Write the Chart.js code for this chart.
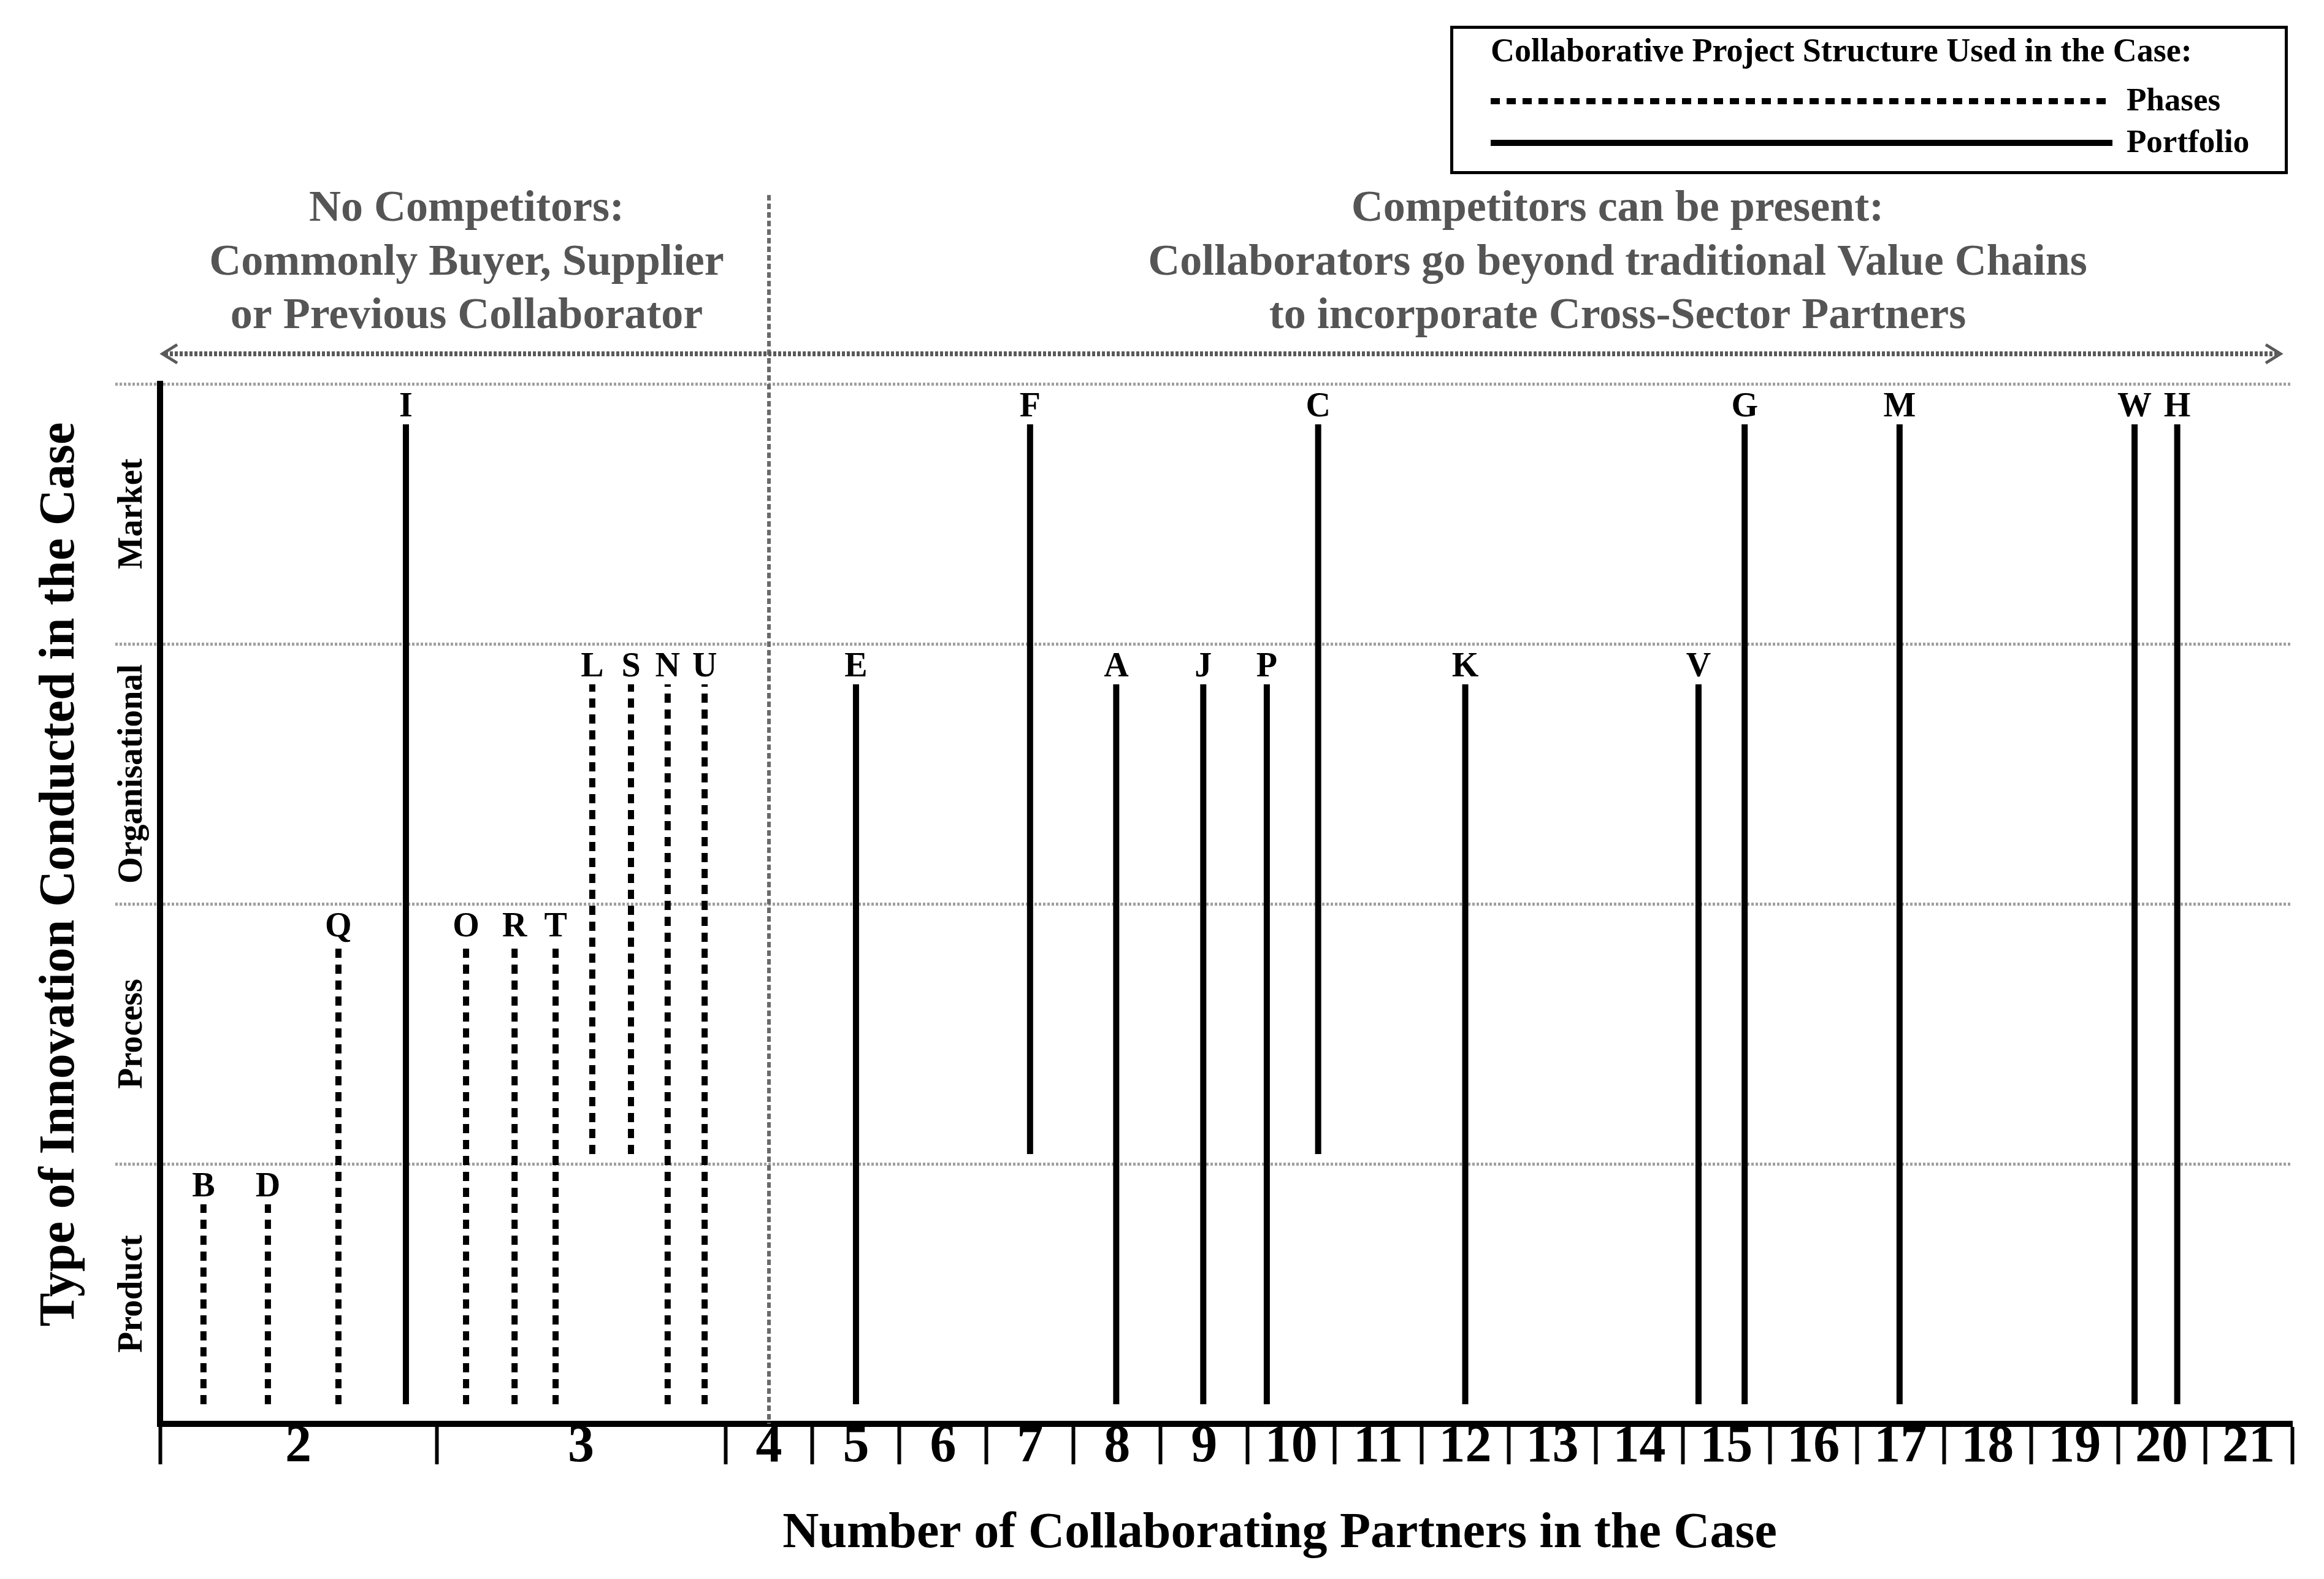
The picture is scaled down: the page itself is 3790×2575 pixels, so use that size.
<!DOCTYPE html>
<html>
<head>
<meta charset="utf-8">
<script src="https://cdn.jsdelivr.net/npm/chart.js@4.4.1/dist/chart.umd.min.js"></script>
<style>
html,body{margin:0;padding:0;background:#ffffff;}
#wrap{width:3790px;height:2575px;position:relative;}
</style>
</head>
<body>
<div id="wrap"><canvas id="c"></canvas></div>
<script>
// ---------------- DATA ----------------
const partnerTicks = [2,3,4,5,6,7,8,9,10,11,12,13,14,15,16,17,18,19,20,21];
const innovationTypes = ['Product','Process','Organisational','Market'];
const structures = ['Phases','Portfolio'];

const caseLabels    = ['B','D','Q','I','O','R','T','L','S','N','U','E','F','A','J','P','C','K','V','G','M','W','H'];
const casePartners  = [ 2,  2,  2,  2,  3,  3,  3,  3,  3,  3,  3,  5,  7,  8,  9, 10, 10, 12, 15, 15, 17, 20, 20];
const caseStructure = ['Phases','Phases','Phases','Portfolio','Phases','Phases','Phases','Phases','Phases','Phases','Phases',
                       'Portfolio','Portfolio','Portfolio','Portfolio','Portfolio','Portfolio','Portfolio','Portfolio','Portfolio','Portfolio','Portfolio','Portfolio'];
// innovation type index where each case line starts / ends
const caseFromType  = [0,0,0,0,0,0,0,1,1,0,0,0,1,0,0,0,1,0,0,0,0,0,0];
const caseToType    = [0,0,1,3,1,1,1,2,2,2,2,2,3,2,2,2,3,2,2,3,3,3,3];
// relative place of each case inside its partner column
const caseSlot      = [0.157,0.390,0.645,0.889,0.102,0.270,0.412,0.539,0.673,0.800,0.928,0.50,0.50,0.49,0.49,0.22,0.81,0.50,0.18,0.71,0.49,0.19,0.68];

const competitorThreshold = 4;
const legendTitle = 'Collaborative Project Structure Used in the Case:';
const leftGroupText  = ['No Competitors:','Commonly Buyer, Supplier','or Previous Collaborator'];
const rightGroupText = ['Competitors can be present:','Collaborators go beyond traditional Value Chains','to incorporate Cross-Sector Partners'];
const xTitle = 'Number of Collaborating Partners in the Case';
const yTitle = 'Type of Innovation Conducted in the Case';

// ---------------- LAYOUT HELPERS ----------------
const FONT = '"Liberation Serif", "Times New Roman", serif';
const wideColumns = {2: 3.1774, 3: 3.3183};
function colWidth(p){ return wideColumns[p] || 1; }
function colStart(p){ let s = 0; for (const q of partnerTicks){ if (q === p) return s; s += colWidth(q); } return s; }
const xMax = colStart(partnerTicks[partnerTicks.length-1]) + colWidth(partnerTicks[partnerTicks.length-1]);

const xTickDefs = [];
partnerTicks.forEach(p => {
  xTickDefs.push({value: colStart(p), label: '', boundary: true});
  xTickDefs.push({value: colStart(p) + colWidth(p)/2, label: String(p), boundary: false});
});
xTickDefs.push({value: xMax, label: '', boundary: true});

const dashFor = {Phases: [15, 11], Portfolio: []};

const datasets = caseLabels.map((lab, i) => {
  const x = colStart(casePartners[i]) + caseSlot[i] * colWidth(casePartners[i]);
  return {
    label: lab,
    data: [{x: x, y: caseFromType[i]}, {x: x, y: caseToType[i] + 1}],
    showLine: true,
    borderColor: '#000000',
    borderWidth: 10,
    borderDash: dashFor[caseStructure[i]],
    borderCapStyle: 'butt',
    pointRadius: 0,
    pointHoverRadius: 0,
    fill: false
  };
});

const decorPlugin = {
  id: 'decor',
  afterDatasetsUpdate(chart){
    chart.data.datasets.forEach((ds, i) => {
      const meta = chart.getDatasetMeta(i);
      const p0 = meta.data[0], p1 = meta.data[1];
      p0.y -= (caseFromType[i] === 0 ? 32 : 16);
      p1.y += 66;
    });
  },
  beforeDatasetsDraw(chart){
    const ctx = chart.ctx, xs = chart.scales.x, ca = chart.chartArea;
    ctx.save();
    // competitor threshold divider
    const dx = xs.getPixelForValue(colStart(competitorThreshold) + colWidth(competitorThreshold)/2);
    ctx.strokeStyle = '#6a6a6a'; ctx.lineWidth = 6; ctx.setLineDash([9,5]);
    ctx.beginPath(); ctx.moveTo(dx, 318); ctx.lineTo(dx, ca.bottom); ctx.stroke();
    // double arrow
    const ay = 577, ax1 = ca.left + 4, ax2 = ca.right - 19;
    ctx.strokeStyle = '#5a5a5a'; ctx.lineWidth = 8; ctx.setLineDash([5,3]);
    ctx.beginPath(); ctx.moveTo(ax1 + 4, ay); ctx.lineTo(ax2 - 4, ay); ctx.stroke();
    ctx.setLineDash([]); ctx.lineWidth = 5;
    ctx.beginPath(); ctx.moveTo(ax1 + 24, ay - 15); ctx.lineTo(ax1, ay); ctx.lineTo(ax1 + 24, ay + 15); ctx.stroke();
    ctx.beginPath(); ctx.moveTo(ax2 - 24, ay - 15); ctx.lineTo(ax2, ay); ctx.lineTo(ax2 - 24, ay + 15); ctx.stroke();
    // group texts
    ctx.fillStyle = '#555555'; ctx.font = 'bold 72px ' + FONT; ctx.textAlign = 'center'; ctx.textBaseline = 'alphabetic';
    const bl = [360, 448, 535];
    leftGroupText.forEach((t, k) => ctx.fillText(t, 761, bl[k]));
    rightGroupText.forEach((t, k) => ctx.fillText(t, 2638, bl[k]));
    ctx.restore();
  },
  afterDatasetsDraw(chart){
    const ctx = chart.ctx;
    ctx.save();
    ctx.fillStyle = '#000000'; ctx.font = 'bold 56px ' + FONT; ctx.textAlign = 'center'; ctx.textBaseline = 'alphabetic';
    chart.data.datasets.forEach((ds, i) => {
      const p1 = chart.getDatasetMeta(i).data[1];
      ctx.fillText(caseLabels[i], p1.x, p1.y - 13);
    });
    ctx.restore();
  },
  afterDraw(chart){
    const ctx = chart.ctx, ys = chart.scales.y;
    ctx.save();
    ctx.fillStyle = '#000000';
    // y category labels
    ctx.font = 'bold 56px ' + FONT; ctx.textAlign = 'center'; ctx.textBaseline = 'alphabetic';
    innovationTypes.forEach((t, k) => {
      ctx.save(); ctx.translate(231, ys.getPixelForValue(k + 0.5)); ctx.rotate(-Math.PI/2); ctx.fillText(t, 0, 0); ctx.restore();
    });
    // axis titles
    ctx.font = 'bold 82px ' + FONT;
    ctx.fillText(xTitle, 2087, 2523);
    ctx.save(); ctx.translate(120, 1426); ctx.rotate(-Math.PI/2); ctx.fillText(yTitle, 0, 0); ctx.restore();
    // legend
    ctx.lineWidth = 5; ctx.strokeStyle = '#000000'; ctx.setLineDash([]);
    ctx.strokeRect(2367.5, 44.5, 1361, 237);
    ctx.font = 'bold 54px ' + FONT; ctx.textAlign = 'left';
    ctx.fillText(legendTitle, 2431, 100);
    ctx.font = 'bold 53px ' + FONT;
    const ly = [165, 233], tb = [180, 248];
    structures.forEach((s, k) => {
      ctx.lineWidth = 10; ctx.setLineDash(dashFor[s]);
      ctx.beginPath(); ctx.moveTo(2431, ly[k]); ctx.lineTo(3445, ly[k]); ctx.stroke();
      ctx.fillText(s, 3468, tb[k]);
    });
    ctx.restore();
  }
};

new Chart(document.getElementById('c'), {
  type: 'scatter',
  data: {datasets: datasets},
  options: {
    responsive: true,
    maintainAspectRatio: false,
    animation: false,
    events: [],
    layout: {padding: {top: 626, right: 52, bottom: 0, left: 0}},
    plugins: {legend: {display: false}, tooltip: {enabled: false}, title: {display: false}},
    scales: {
      x: {
        type: 'linear', position: 'bottom', min: 0, max: xMax,
        afterBuildTicks: s => { s.ticks = xTickDefs.map(d => ({value: d.value})); },
        afterFit: s => { s.height = 253; },
        ticks: {
          autoSkip: false, maxRotation: 0, minRotation: 0, padding: -79,
          color: '#000000', font: {family: FONT, weight: 'bold', size: 86, lineHeight: 1.2},
          callback: (v, i) => xTickDefs[i] ? xTickDefs[i].label : ''
        },
        grid: {
          drawOnChartArea: false, drawTicks: true, tickLength: 66, tickWidth: 6,
          color: '#000000',
          tickColor: c => (xTickDefs[c.index] && xTickDefs[c.index].boundary) ? '#000000' : 'rgba(0,0,0,0)'
        },
        border: {display: true, color: '#000000', width: 10}
      },
      y: {
        type: 'linear', position: 'left', min: 0, max: innovationTypes.length,
        afterBuildTicks: s => { s.ticks = [0,1,2,3,4].map(v => ({value: v})); },
        afterFit: s => { s.width = 261; },
        ticks: {display: false},
        grid: {
          drawOnChartArea: true, drawTicks: true, tickLength: 73,
          lineWidth: 5, tickWidth: 5,
          color: c => (c.tick && c.tick.value === 0) ? 'rgba(0,0,0,0)' : '#a0a0a0',
          tickColor: c => (c.tick && c.tick.value === 0) ? 'rgba(0,0,0,0)' : '#a0a0a0',
          tickBorderDash: [4,3]
        },
        border: {display: true, color: '#000000', width: 10, dash: [4,3]}
      }
    }
  },
  plugins: [decorPlugin]
});
</script>
</body>
</html>
